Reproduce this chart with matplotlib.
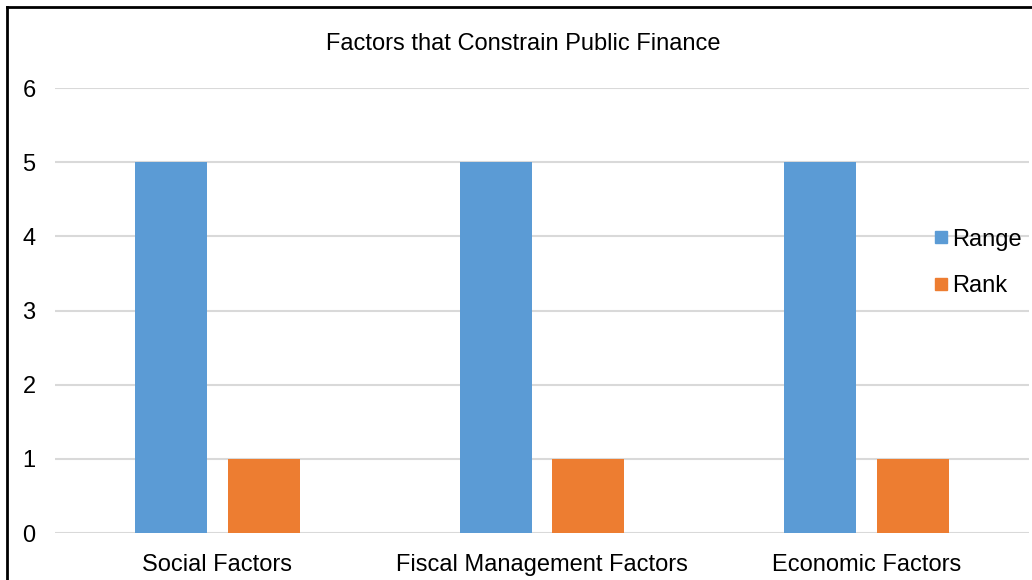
import matplotlib
matplotlib.use("Agg")
import matplotlib.pyplot as plt
import numpy as np
from matplotlib.lines import Line2D

categories = ["Social Factors", "Fiscal Management Factors", "Economic Factors"]
range_vals = [5, 5, 5]
rank_vals = [1, 1, 1]
y_ticks = [0, 1, 2, 3, 4, 5, 6]

BLUE, ORANGE, GRID = "#5B9BD5", "#ED7D31", "#D9D9D9"
FS = 17

plt.rcParams["font.family"] = ["Liberation Sans", "DejaVu Sans"]

fig = plt.figure(figsize=(10.32, 5.8), dpi=100)
ax = fig.add_axes([55 / 1032, 1 - 533 / 580, 974 / 1032, 445 / 580])

x = np.arange(len(categories))
w = 0.222
off = 0.143
ax.bar(x - off, range_vals, w, color=BLUE, zorder=2)
ax.bar(x + off, rank_vals, w, color=ORANGE, zorder=2)

ax.set_xlim(-0.5, len(categories) - 0.5)
ax.set_ylim(0, 6)
ax.set_yticks(y_ticks)
ax.set_xticks(x)
ax.set_xticklabels(categories)
ax.grid(axis="y", color=GRID, lw=1.5, zorder=0)
ax.tick_params(axis="both", length=0, labelsize=FS)
ax.tick_params(axis="y", pad=14)
ax.tick_params(axis="x", pad=15)
for sp in ax.spines.values():
    sp.set_visible(False)

fig.text(523 / 1032, 1 - 44 / 580, "Factors that Constrain Public Finance",
         ha="center", va="center", fontsize=FS)

handles = [Line2D([], [], marker="s", ls="", color=BLUE, markersize=9),
           Line2D([], [], marker="s", ls="", color=ORANGE, markersize=9)]
fig.legend(handles, ["Range", "Rank"], loc="center left",
           bbox_to_anchor=(913 / 1032, 1 - 263 / 580), frameon=False,
           fontsize=FS, handlelength=0.6, handletextpad=0.15,
           labelspacing=1.05)

# frame lines along the left and top edges
fig.add_artist(Line2D([7 / 1032, 7 / 1032], [0, 1 - 7 / 580],
                      transform=fig.transFigure, color="black", lw=2))
fig.add_artist(Line2D([7 / 1032, 1], [1 - 7 / 580, 1 - 7 / 580],
                      transform=fig.transFigure, color="black", lw=2))

fig.savefig("out.png", dpi=100)
